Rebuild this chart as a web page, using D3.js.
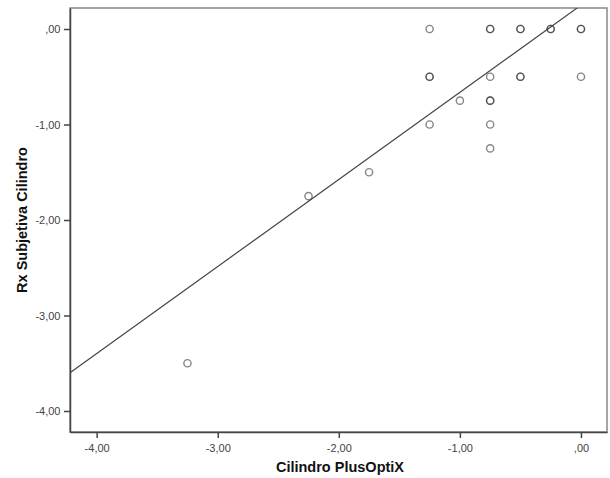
<!DOCTYPE html>
<html>
<head>
<meta charset="utf-8">
<script src="https://cdn.jsdelivr.net/npm/d3@7"></script>
<style>
  body { margin: 0; background: #fff; }
  svg text { font-family: "Liberation Sans", Arial, sans-serif; }
</style>
</head>
<body>
<svg id="chart" width="610" height="478"></svg>
<script>
// data (duplicates drawn twice, like SPSS overplotting)
let plusOptix = [-3.25, -2.25, -1.75, -1.25, -1.25, -1.25, -1.25, -1.0,
  -0.75, -0.75, -0.75, -0.75, -0.75, -0.75, -0.75,
  -0.5, -0.5, -0.5, -0.5, -0.25, -0.25, 0, 0, 0];
let rxSubjetiva = [-3.5, -1.75, -1.5, 0, -0.5, -0.5, -1.0, -0.75,
  0, 0, -0.5, -0.75, -0.75, -1.0, -1.25,
  0, 0, -0.5, -0.5, 0, 0, 0, 0, -0.5];
let tickValues = [-4, -3, -2, -1, 0];
let fitX = [-4.22, 0.22];
let fitY = [-3.60, 0.45];

let svg = d3.select("#chart");
let margin = { top: 8, right: 3, bottom: 46, left: 70 };
let width = 610 - margin.left - margin.right;
let height = 478 - margin.top - margin.bottom;

let x = d3.scaleLinear().domain([-4.22, 0.215]).range([0, width]);
let y = d3.scaleLinear().domain([-4.22, 0.22]).range([height, 0]);

// SPSS style: comma decimals, plain hyphen, no leading zero
let fmt = d => d === 0 ? ",00" : (d < 0 ? "-" : "") + Math.abs(d).toFixed(2).replace(".", ",");

let g = svg.append("g").attr("transform", `translate(${margin.left},${margin.top})`);

g.append("clipPath").attr("id", "clip")
  .append("rect").attr("width", width).attr("height", height);

// frame
g.append("rect")
  .attr("width", width).attr("height", height)
  .attr("fill", "none").attr("stroke", "#888").attr("stroke-width", 1.5);

let xAxis = g.append("g")
  .attr("transform", `translate(0,${height})`)
  .call(d3.axisBottom(x).tickValues(tickValues).tickFormat(fmt).tickSize(6).tickSizeOuter(0));
let yAxis = g.append("g")
  .call(d3.axisLeft(y).tickValues(tickValues).tickFormat(fmt).tickSize(6).tickSizeOuter(0));

for (const ax of [xAxis, yAxis]) {
  ax.select(".domain").attr("stroke", "#444").attr("stroke-width", 1.5);
  ax.selectAll(".tick line").attr("stroke", "#444").attr("stroke-width", 1.5);
  ax.selectAll(".tick text").attr("fill", "#444").style("font-size", "11px");
}
xAxis.selectAll(".tick text").attr("dy", "1em");
yAxis.selectAll(".tick text").attr("dx", "-0.05em");

// fit line
g.append("line")
  .attr("clip-path", "url(#clip)")
  .attr("x1", x(fitX[0])).attr("y1", y(fitY[0]))
  .attr("x2", x(fitX[1])).attr("y2", y(fitY[1]))
  .attr("stroke", "#444").attr("stroke-width", 1.2);

// points
g.selectAll("circle.pt")
  .data(plusOptix.map((v, i) => [v, rxSubjetiva[i]]))
  .enter()
  .append("circle")
  .attr("class", "pt")
  .attr("cx", d => x(d[0]))
  .attr("cy", d => y(d[1]))
  .attr("r", 3.6)
  .attr("fill", "none")
  .attr("stroke", "#333")
  .attr("stroke-opacity", 0.6)
  .attr("stroke-width", 1.4);

// axis titles
svg.append("text")
  .attr("x", 340)
  .attr("y", 472)
  .attr("text-anchor", "middle")
  .attr("font-weight", "bold")
  .attr("font-size", 14.5)
  .attr("fill", "#111")
  .text("Cilindro PlusOptiX");
svg.append("text")
  .attr("transform", `translate(27,220) rotate(-90)`)
  .attr("text-anchor", "middle")
  .attr("font-weight", "bold")
  .attr("font-size", 14.5)
  .attr("fill", "#111")
  .text("Rx Subjetiva Cilindro");
</script>
</body>
</html>
